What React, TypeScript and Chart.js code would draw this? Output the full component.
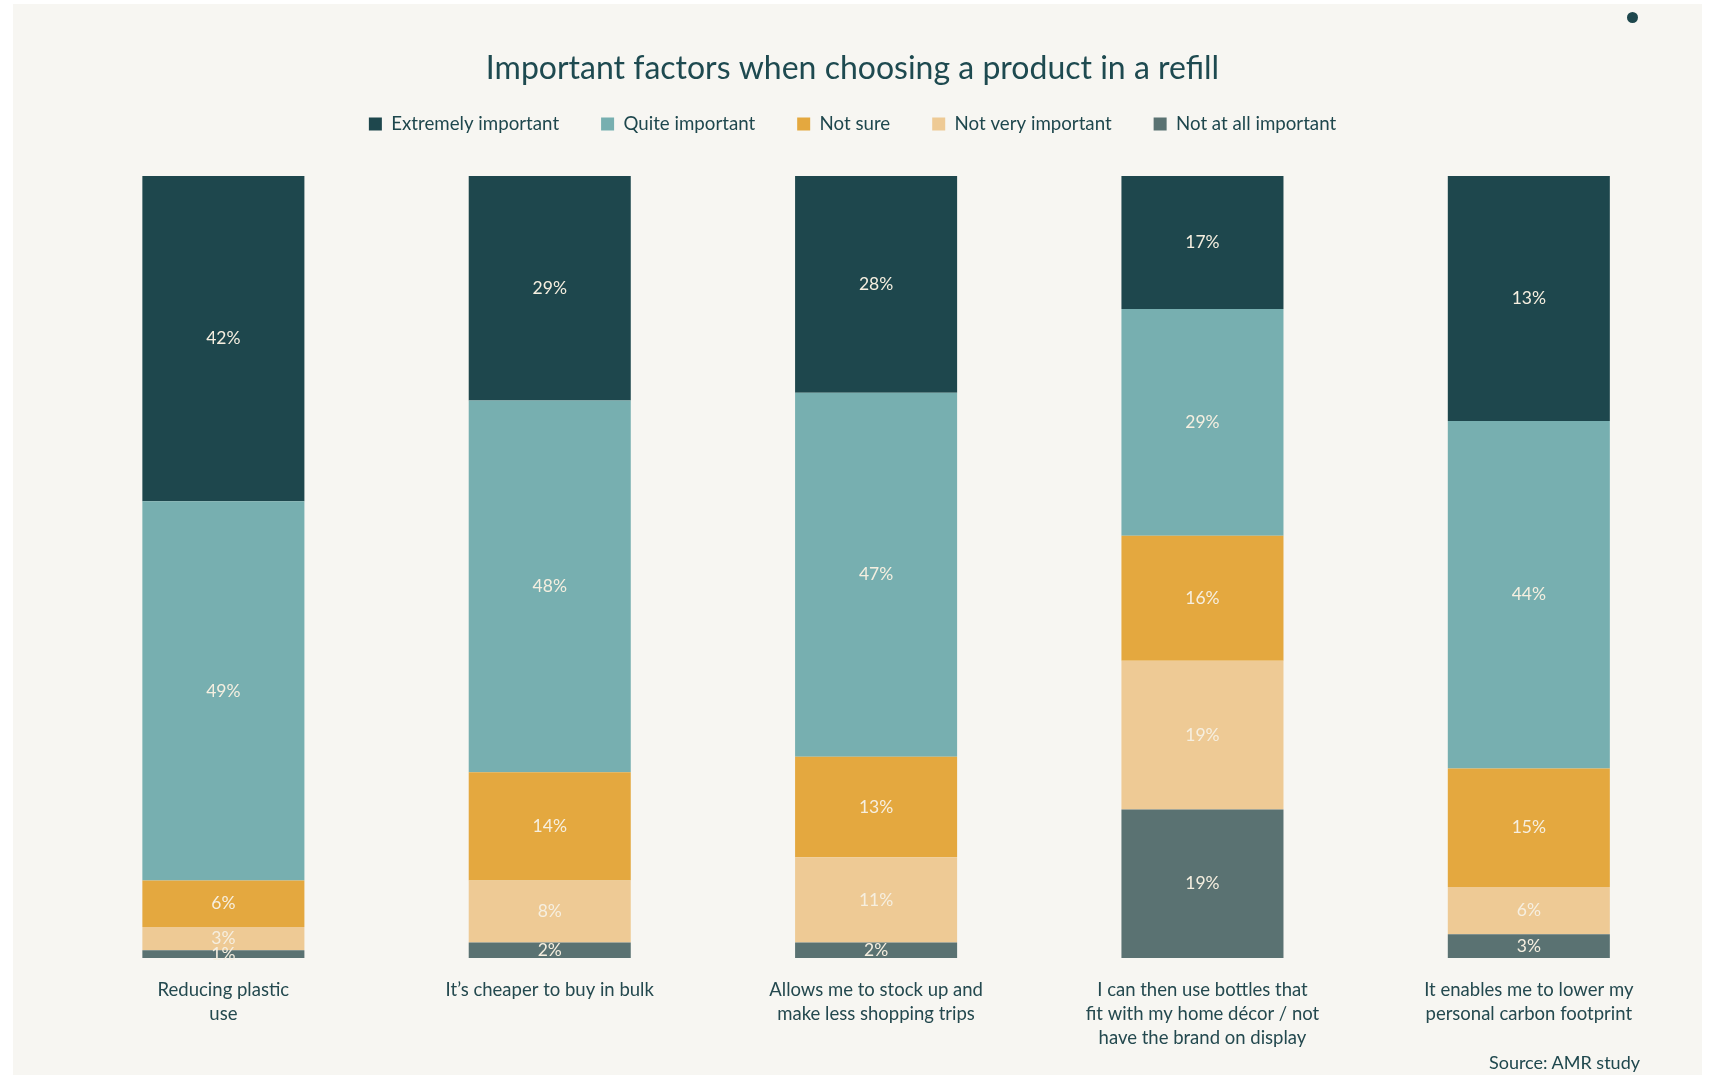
import React, { useEffect, useRef } from "react";
import { Chart, registerables } from "chart.js";

Chart.register(...registerables);

// ---------- data ----------
const categories: string[][] = [
  ["Reducing plastic", "use"],
  ["It’s cheaper to buy in bulk"],
  ["Allows me to stock up and", "make less shopping trips"],
  ["I can then use bottles that", "fit with my home décor / not", "have the brand on display"],
  ["It enables me to lower my", "personal carbon footprint"],
];

const seriesNames = [
  "Extremely important",
  "Quite important",
  "Not sure",
  "Not very important",
  "Not at all important",
];

const extremelyImportant = [42, 29, 28, 17, 31];
const quiteImportant = [49, 48, 47, 29, 44];
const notSure = [6, 14, 13, 16, 15];
const notVeryImportant = [3, 8, 11, 19, 6];
const notAtAllImportant = [1, 2, 2, 19, 3];

// labels as printed on the original chart (the last bar's top segment is printed "13%")
const extremelyImportantLabels = ["42%", "29%", "28%", "17%", "13%"];

const chartTitle = "Important factors when choosing a product in a refill";
const sourceNote = "Source: AMR study";

const seriesColors = ["#1e474d", "#77afb0", "#e4a83f", "#eeca95", "#5a7272"];

// ---------- build ----------
const seriesValues = [
  extremelyImportant,
  quiteImportant,
  notSure,
  notVeryImportant,
  notAtAllImportant,
];

const totals = categories.map((_, i) =>
  seriesValues.reduce((s, arr) => s + arr[i], 0)
);

const seriesLabels = seriesValues.map((arr, si) =>
  si === 0 ? extremelyImportantLabels : arr.map((v) => `${v}%`)
);

// stacked bottom-to-top: last series first; legend is reversed to read top-to-bottom
const datasets = seriesValues
  .map((arr, si) => ({
    label: seriesNames[si],
    data: arr.map((v, i) => (v / totals[i]) * 100),
    printed: seriesLabels[si],
    backgroundColor: seriesColors[si],
    borderWidth: 0,
    categoryPercentage: 0.4965,
    barPercentage: 1,
  }))
  .reverse();

const FONT = "Lato, 'Open Sans', sans-serif";

const segmentLabels = {
  id: "segmentLabels",
  afterDatasetsDraw(chart: any) {
    const ctx = chart.ctx;
    ctx.save();
    ctx.font = `17.5px ${FONT}`;
    ctx.fillStyle = "#f6efe0";
    ctx.textAlign = "center";
    ctx.textBaseline = "middle";
    chart.data.datasets.forEach((ds: any, di: number) => {
      const meta = chart.getDatasetMeta(di);
      meta.data.forEach((bar: any, i: number) => {
        const { x, y, base } = bar.getProps(["x", "y", "base"], true);
        ctx.fillText(ds.printed[i], x, (y + base) / 2);
      });
    });
    ctx.restore();
  },
};

export default function App() {
  const ref = useRef<HTMLCanvasElement>(null);

  useEffect(() => {
    Chart.defaults.font.family = FONT;
    const chart = new Chart(ref.current as HTMLCanvasElement, {
      type: "bar",
      data: { labels: categories, datasets: datasets as any },
      options: {
        responsive: false,
        animation: false,
        devicePixelRatio: 1,
        layout: { padding: { top: 60.9, bottom: 5.6, left: 0, right: 10 } },
        plugins: {
          title: {
            display: true,
            text: chartTitle,
            color: "#1e4a50",
            font: { size: 32, weight: "normal", lineHeight: 0.24 },
            padding: 0,
          },
          legend: {
            display: true,
            reverse: true,
            maxHeight: 71.4,
            labels: {
              boxWidth: 13,
              boxHeight: 13,
              padding: 42,
              color: "#1e474d",
              font: { size: 18.7 },
            },
          },
          tooltip: { enabled: false },
        },
        scales: {
          x: {
            stacked: true,
            grid: { display: false, drawTicks: false },
            border: { display: false },
            ticks: {
              color: "#24494f",
              font: { size: 18.5, lineHeight: 24 / 18.5 },
              padding: 19.7,
              maxRotation: 0,
              autoSkip: false,
            },
          },
          y: {
            stacked: true,
            min: 0,
            max: 104.19,
            grid: { display: false, drawTicks: false },
            border: { display: false },
            ticks: { display: false },
            afterFit: (s: any) => {
              s.width = 47.2;
            },
          },
        },
      },
      plugins: [segmentLabels],
    });
    return () => chart.destroy();
  }, []);

  return (
    <div
      style={{
        position: "absolute",
        left: 13,
        top: 4,
        width: 1689,
        height: 1071,
        background: "#f7f6f2",
        fontFamily: FONT,
      }}
    >
      <canvas ref={ref} width={1689} height={1071} style={{ display: "block" }} />
      <div
        style={{
          position: "absolute",
          left: 1613.5,
          top: 7.5,
          width: 11,
          height: 11,
          borderRadius: "50%",
          background: "#1e474d",
        }}
      />
      <div
        style={{
          position: "absolute",
          right: 62,
          top: 1047,
          fontSize: 18,
          lineHeight: "22px",
          color: "#1e474d",
          whiteSpace: "nowrap",
        }}
      >
        {sourceNote}
      </div>
    </div>
  );
}
